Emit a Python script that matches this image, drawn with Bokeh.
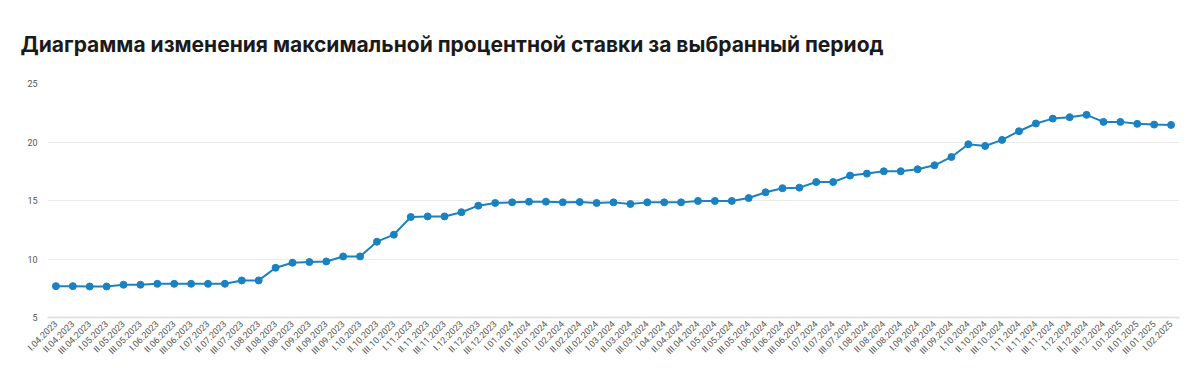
from bokeh.plotting import figure
from bokeh.models import Range1d, FixedTicker
from bokeh.embed import file_html
from bokeh.resources import INLINE
import math

periods = ["I", "II", "III"]
months = ["04.2023", "05.2023", "06.2023", "07.2023", "08.2023", "09.2023", "10.2023",
          "11.2023", "12.2023", "01.2024", "02.2024", "03.2024", "04.2024", "05.2024",
          "06.2024", "07.2024", "08.2024", "09.2024", "10.2024", "11.2024", "12.2024",
          "01.2025"]
labels = [f"{pr}.{m}" for m in months for pr in periods] + ["I.02.2025"]

rates = [7.68, 7.68, 7.65, 7.65, 7.8, 7.8, 7.88, 7.88, 7.88, 7.88,
         7.88, 8.17, 8.17, 9.25, 9.68, 9.74, 9.79, 10.22, 10.22, 11.48,
         12.08, 13.59, 13.64, 13.64, 14.0, 14.56, 14.79, 14.84, 14.9, 14.9,
         14.84, 14.87, 14.79, 14.84, 14.7, 14.84, 14.84, 14.84, 14.96, 14.96,
         14.96, 15.21, 15.7, 16.05, 16.1, 16.58, 16.58, 17.13, 17.3, 17.5,
         17.5, 17.67, 18.01, 18.72, 19.81, 19.66, 20.18, 20.92, 21.58, 22.0,
         22.12, 22.32, 21.72, 21.72, 21.55, 21.49, 21.46]

y_ticks = [5, 10, 15, 20, 25]

x = list(range(len(labels)))

p = figure(width=1200, height=368, output_backend="svg", toolbar_location=None,
           x_range=Range1d(-0.5, len(labels) - 0.5), y_range=Range1d(5, 25),
           min_border_left=47, min_border_right=21, min_border_bottom=51, min_border_top=83)

p.title.text = "Диаграмма изменения максимальной процентной ставки за выбранный период"
p.title.text_font = "Inter"
p.title.text_font_size = "21px"
p.title.text_font_style = "bold"
p.title.text_color = "#1a1a1a"
p.title.standoff = 54
p.title.offset = -27

p.outline_line_color = None
p.background_fill_color = "white"

p.line(x, rates, line_color="#1a82c0", line_width=2)
p.scatter(x, rates, size=7, fill_color="#1a82c0", line_color="#1a82c0")

p.xaxis.ticker = FixedTicker(ticks=x)
p.xaxis.major_label_overrides = {i: lab for i, lab in enumerate(labels)}
p.xaxis.major_label_orientation = math.pi / 4
p.xaxis.major_label_text_font = "Roboto"
p.xaxis.major_label_text_font_size = "9px"
p.xaxis.major_label_text_color = "#555555"
p.xaxis.major_tick_line_color = None
p.xaxis.major_tick_out = 0
p.xaxis.major_tick_in = 0
p.xaxis.minor_tick_line_color = None
p.xaxis.minor_tick_out = 0
p.xaxis.axis_line_color = "#e3e3e3"
p.xaxis.axis_line_width = 2
p.xaxis.major_label_standoff = 5
p.xaxis.axis_label_standoff = 0
p.xgrid.grid_line_color = None

p.yaxis.ticker = FixedTicker(ticks=y_ticks)
p.yaxis.major_label_text_font = "Roboto"
p.yaxis.major_label_text_font_size = "9px"
p.yaxis.major_label_text_color = "#555555"
p.yaxis.major_tick_line_color = None
p.yaxis.major_tick_out = 0
p.yaxis.minor_tick_line_color = None
p.yaxis.axis_line_color = None
p.yaxis.major_label_standoff = 10
p.ygrid.grid_line_color = "#ebebeb"
p.ygrid.grid_line_width = 1

open("out.html", "w").write(file_html(p, INLINE))
